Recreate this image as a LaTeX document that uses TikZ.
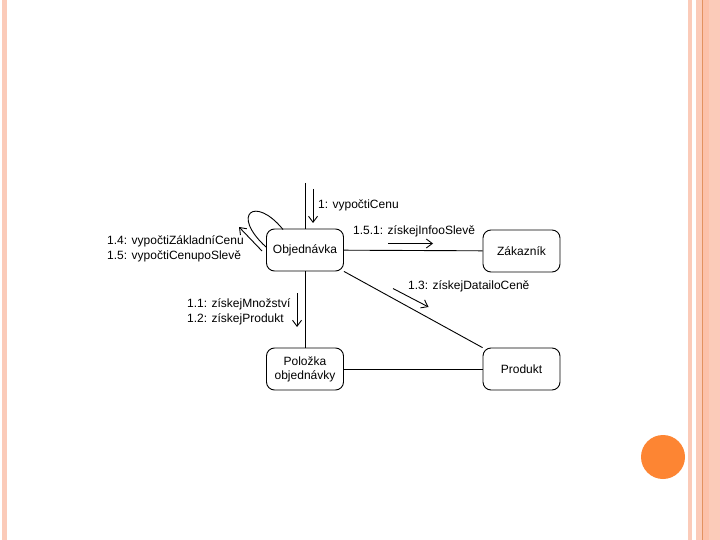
\documentclass[tikz,border=0pt]{standalone}
\usepackage{fontspec}
\setmainfont{Liberation Sans}
\usetikzlibrary{arrows.meta}
\definecolor{stripe}{HTML}{FBCBB9}
\definecolor{peach}{HTML}{FCC1AA}
\definecolor{darkline}{HTML}{E39260}
\definecolor{dot}{HTML}{FD8533}
\tikzset{
  objbox/.style={draw, line width=0.9pt, rounded corners=8pt, minimum width=77pt, minimum height=42pt, inner sep=2pt, align=center, font=\fontsize{12}{14}\selectfont},
  link/.style={line width=0.9pt},
  msg/.style={line width=0.9pt, -{Straight Barb[length=6pt,width=9pt]}},
  lbl/.style={anchor=west, inner sep=0pt, align=left, font=\fontsize{12}{15}\selectfont}
}
\begin{document}
\begin{tikzpicture}[x=1pt,y=-1pt]
\useasboundingbox (0,0) rectangle (720,540);
\fill[white] (0,0) rectangle (720,540);
% decorative stripes
\fill[stripe] (2.3,0) rectangle (6.7,540);
\fill[stripe] (688.3,0) rectangle (692,540);
\fill[stripe] (696,0) rectangle (720,540);
\fill[peach] (703,0) rectangle (709,540);
\fill[darkline] (701.8,0) rectangle (703,540);
\fill[dot] (663,457) circle (22);
% nodes
\node[objbox] (obj) at (305,250) {Objednávka};
\node[objbox] (zak) at (521.5,251) {Zákazník};
\node[objbox] (pol) at (305,369) {Položka\\objednávky};
\node[objbox] (pro) at (521.5,369) {Produkt};
\coordinate (top) at (305,183);
% links
\draw[link] (top) -- (obj.north);
\draw[link] (obj) -- (zak);
\draw[link] (obj) -- (pol);
\draw[link] (obj) -- (pro);
\draw[link] (pol) -- (pro);
\coordinate (loopA) at (283,229.5);
\coordinate (loopB) at (266,247);
\draw[link] (loopA) .. controls (255,195) and (230,214) .. (loopB);
% messages
\coordinate (m1a) at (313,189);
\coordinate (m1b) at (313,223);
\draw[msg] (m1a) -- (m1b);
\node[lbl] (l1) at (318,205) {1: vypočtiCenu};
\coordinate (m14a) at (262,251);
\coordinate (m14b) at (239,227);
\draw[msg] (m14a) -- (m14b);
\node[lbl] (l14) at (107,249) {1.4: vypočtiZákladníCenu\\1.5: vypočtiCenupoSlevě};
\coordinate (m151a) at (388,243.5);
\coordinate (m151b) at (433,243.5);
\draw[msg] (m151a) -- (m151b);
\node[lbl] (l151) at (353,231.5) {1.5.1: získejInfooSlevě};
\coordinate (m13a) at (393,288.5);
\coordinate (m13b) at (428.5,307);
\draw[msg] (m13a) -- (m13b);
\node[lbl] (l13) at (408,286.5) {1.3: získejDatailoCeně};
\coordinate (m11a) at (297,293);
\coordinate (m11b) at (297,327);
\draw[msg] (m11a) -- (m11b);
\node[lbl] (l11) at (187,312) {1.1: získejMnožství\\1.2: získejProdukt};
\end{tikzpicture}
\end{document}
